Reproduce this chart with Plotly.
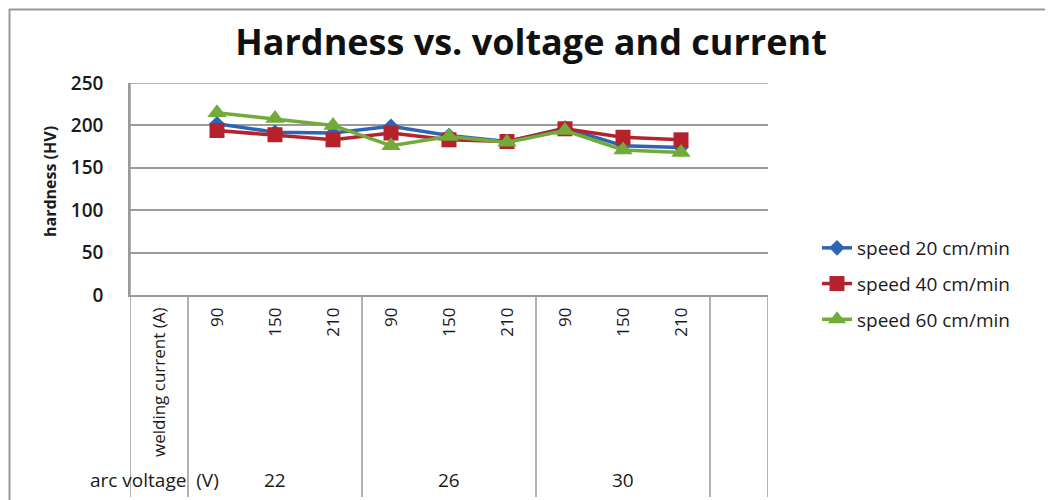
import plotly.graph_objects as go

# ---- data ----
slot_labels = ["welding current (A)", "90", "150", "210", "90", "150", "210", "90", "150", "210"]
voltages = ["22", "26", "30"]
speed20 = [202, 192, 191, 199, 188, 181, 197, 176, 174]
speed40 = [194, 189, 183, 191, 183, 181, 196, 186, 183]
speed60 = [215, 208, 200, 176, 187, 180, 194, 171, 168]
series_names = ["speed 20 cm/min", "speed 40 cm/min", "speed 60 cm/min"]
y_ticks = [0, 50, 100, 150, 200, 250]

colors = ["#2F64B5", "#B5222B", "#72AB3A"]
symbols = ["diamond", "square", "triangle-up"]
msizes = [12, 15, 17]

FONT = "Open Sans"
GRID = "#9a9a9a"
TXT = "#1a1a1a"

x_pos = list(range(1, len(speed20) + 1))

fig = go.Figure()
for i, (name, vals) in enumerate(zip(series_names, [speed20, speed40, speed60])):
    fig.add_trace(go.Scatter(
        x=x_pos, y=vals, name=name, mode="lines+markers",
        line=dict(color=colors[i], width=3.5),
        marker=dict(symbol=symbols[i], size=msizes[i], color=colors[i]),
        legendgroup=str(i),
    ))

# page body has an 8px margin: work in reference pixels, shifted by OFF
OFF = 8
W, H = 1053 - OFF, 500 - OFF
PX0, PX1, PY0, PY1 = 130, 768, 83, 295   # plot area in reference pixels
L = PX0 - OFF
R = W - (PX1 - OFF)
T = PY0 - OFF
B = H - (PY1 - OFF)
pw, ph = PX1 - PX0, PY1 - PY0

def px_x(p):
    return (p - PX0) / pw

def px_y(p):
    return (PY1 - p) / ph

shapes = []
bottom = px_y(497)
for xb in [0.5, 3.5, 6.5, 9.5, 10.5]:
    shapes.append(dict(type="line", xref="x", yref="paper", x0=xb, x1=xb, y0=0, y1=bottom,
                       line=dict(color=GRID, width=1.5)))
shapes.append(dict(type="line", xref="x", yref="paper", x0=-0.5, x1=-0.5, y0=1, y1=bottom,
                   line=dict(color=GRID, width=1.5)))
# outer frame (left and top)
shapes.append(dict(type="line", xref="paper", yref="paper", x0=px_x(9.5), x1=px_x(9.5),
                   y0=px_y(9), y1=px_y(500), line=dict(color="#999999", width=2)))
shapes.append(dict(type="line", xref="paper", yref="paper", x0=px_x(9), x1=px_x(1060),
                   y0=px_y(9.5), y1=px_y(9.5), line=dict(color="#999999", width=2)))
# top border at 250
shapes.append(dict(type="line", xref="x", yref="y", x0=-0.5, x1=10.5, y0=250, y1=250,
                   line=dict(color=GRID, width=1.5)))

annotations = [
    dict(text="<b>hardness (HV)</b>", xref="paper", yref="paper", x=px_x(50), y=px_y(182),
         xanchor="center", yanchor="middle",
         textangle=-90, showarrow=False, font=dict(family=FONT, size=16, color=TXT)),
    dict(text="arc voltage  (V)", xref="paper", yref="paper", x=px_x(154), y=px_y(480),
         xanchor="center", yanchor="middle",
         showarrow=False, font=dict(family=FONT, size=19, color=TXT)),
]
for gi, v in enumerate(voltages):
    annotations.append(dict(text=v, xref="x", yref="paper", x=2 + 3 * gi, y=px_y(480),
                            xanchor="center", yanchor="middle",
                            showarrow=False, font=dict(family=FONT, size=19, color=TXT)))

fig.update_layout(
    width=W, height=H,
    margin=dict(l=L, r=R, t=T, b=B, autoexpand=False),
    paper_bgcolor="white", plot_bgcolor="white",
    title=dict(text="<b>Hardness vs. voltage and current</b>", xref="container", yref="container",
               x=(531 - OFF) / W, y=1 - (42 - OFF) / H, xanchor="center", yanchor="middle",
               font=dict(family=FONT, size=36, color="#111")),
    xaxis=dict(range=[-0.5, 10.5], tickmode="array", tickvals=list(range(len(slot_labels))),
               ticktext=slot_labels, tickangle=-90, showgrid=False, zeroline=False,
               showline=True, linecolor=GRID, linewidth=1.5, ticks="", ticklabelstandoff=4,
               tickfont=dict(family=FONT, size=17, color=TXT), fixedrange=True),
    yaxis=dict(range=[0, 250], tickmode="array", tickvals=y_ticks, showgrid=True,
               gridcolor=GRID, gridwidth=1.5, zeroline=False, showline=True, linecolor=GRID,
               linewidth=1.5, ticks="", ticklabelstandoff=21,
               tickfont=dict(family=FONT, size=19, color=TXT, weight=600)),
    showlegend=True,
    legend=dict(x=px_x(817), y=px_y(229), xanchor="left", yanchor="top",
                font=dict(family=FONT, size=19, color=TXT),
                traceorder="grouped", tracegroupgap=8, bgcolor="rgba(0,0,0,0)"),
    shapes=shapes,
    annotations=annotations,
)

fig.write_html("out.html")
